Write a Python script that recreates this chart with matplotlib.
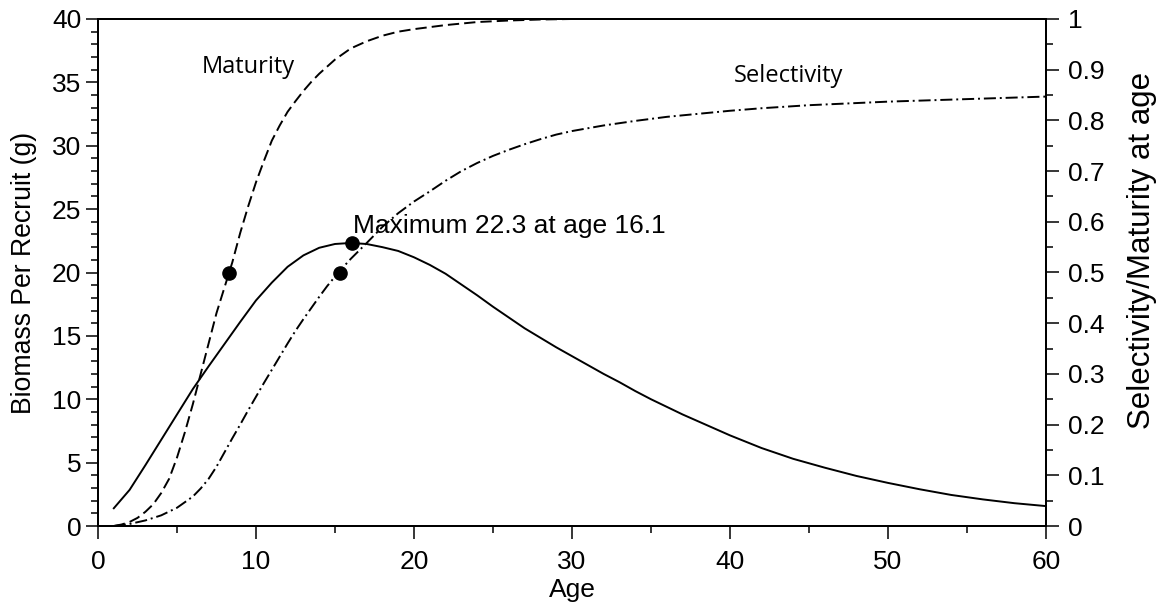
import matplotlib
matplotlib.use("Agg")
import matplotlib.pyplot as plt
from matplotlib.ticker import MultipleLocator

# ---- data ----
bpr_age = [1, 2, 3, 4, 5, 6, 7, 8, 9, 10, 11, 12, 13, 14, 15, 16, 17, 18,
           19, 20, 21, 22, 23, 24, 25, 26, 27, 28, 29, 30, 31, 32, 33, 34,
           35, 36, 37, 38, 39, 40, 42, 44, 46, 48, 50, 52, 54, 56, 58, 60]
bpr = [1.4, 2.85, 4.8, 6.8, 8.8, 10.8, 12.6, 14.35, 16.1, 17.8, 19.2, 20.45,
       21.35, 21.95, 22.25, 22.33, 22.25, 22.0, 21.7, 21.2, 20.6, 19.9, 19.05,
       18.2, 17.3, 16.45, 15.6, 14.85, 14.1, 13.4, 12.7, 12.0, 11.35, 10.65,
       10.0, 9.4, 8.8, 8.25, 7.7, 7.15, 6.15, 5.3, 4.6, 3.95, 3.4, 2.9, 2.45,
       2.1, 1.8, 1.57]

mat_age = [1, 1.5, 2, 2.5, 3, 3.5, 4, 4.5, 5, 5.5, 6, 6.5, 7, 7.5, 8, 8.5, 9,
           9.5, 10, 10.5, 11, 11.5, 12, 12.5, 13, 13.5, 14, 15, 16, 17, 18,
           19, 20, 21, 22, 23, 24, 26, 28, 30, 45, 60]
mat = [0.0, 0.003, 0.008, 0.016, 0.028, 0.043, 0.065, 0.093, 0.135, 0.185,
       0.24, 0.3, 0.36, 0.42, 0.47, 0.52, 0.578, 0.63, 0.678, 0.72, 0.76,
       0.79, 0.817, 0.838, 0.858, 0.876, 0.892, 0.92, 0.942, 0.956, 0.967,
       0.975, 0.98, 0.984, 0.988, 0.991, 0.994, 0.997, 0.999, 1.0, 1.0, 1.0]

sel_age = [1, 2, 3, 4, 5, 6, 6.5, 7, 7.5, 8, 8.5, 9, 9.5, 10, 10.5, 11, 11.5,
           12, 12.5, 13, 13.5, 14, 14.5, 15, 15.5, 16, 17, 18, 19, 20, 21,
           22, 23, 24, 25, 26, 27, 28, 29, 30, 32, 34, 36, 38, 40, 42, 45,
           50, 55, 60]
sel = [0.0, 0.004, 0.011, 0.021, 0.036, 0.058, 0.074, 0.093, 0.117, 0.145,
       0.173, 0.2, 0.228, 0.255, 0.282, 0.308, 0.334, 0.36, 0.385, 0.408,
       0.43, 0.452, 0.473, 0.492, 0.51, 0.527, 0.558, 0.59, 0.617, 0.64,
       0.66, 0.681, 0.7, 0.716, 0.73, 0.742, 0.753, 0.763, 0.772, 0.779,
       0.79, 0.799, 0.807, 0.813, 0.819, 0.824, 0.83, 0.837, 0.842, 0.847]

max_point = (16.1, 22.3)
mat50 = (8.3, 0.5)
sel50 = (15.3, 0.5)
annotation = "Maximum 22.3 at age 16.1"

# ---- figure ----
plt.rcParams['font.family'] = ['Liberation Sans', 'DejaVu Sans']
fig = plt.figure(figsize=(11.6, 6.04), dpi=100)
ax = fig.add_axes([98/1160, 78/604, 948/1160, 507/604])
ax2 = ax.twinx()

lw = 1.4
ax.plot(bpr_age, bpr, color='black', lw=lw)
ax.plot([max_point[0]], [max_point[1]], 'o', color='black', ms=9.5, zorder=5)
ax.text(max_point[0] + 0.05, 22.3 + 0.8, annotation, fontsize=19,
        ha='left', va='baseline')

ax2.plot(mat_age, mat, color='black', lw=lw, dashes=(5.8, 2.6))
ax2.plot(sel_age, sel, color='black', lw=lw, dashes=(6.2, 2.0, 1.0, 2.0))
ax2.plot([mat50[0], sel50[0]], [mat50[1], sel50[1]], 'o', color='black',
         ms=9.5, zorder=5)

ax.set_xlim(0, 60)
ax.set_ylim(0, 40)
ax2.set_ylim(0, 1)

ax.xaxis.set_major_locator(MultipleLocator(10))
ax.xaxis.set_minor_locator(MultipleLocator(5))
ax.yaxis.set_major_locator(MultipleLocator(5))
ax.yaxis.set_minor_locator(MultipleLocator(1))
ax2.yaxis.set_major_locator(MultipleLocator(0.1))
ax2.yaxis.set_minor_locator(MultipleLocator(0.05))
ax2.yaxis.set_major_formatter(plt.FuncFormatter(lambda v, p: ('%g' % round(v, 2))))

for a in (ax, ax2):
    a.tick_params(which='major', direction='out', length=9, width=1.1,
                  labelsize=19)
    a.tick_params(which='minor', direction='out', length=5, width=1.1)
    for s in a.spines.values():
        s.set_linewidth(1.4)
ax.tick_params(axis='x', which='major', pad=8)
ax.tick_params(axis='y', which='major', pad=3)
ax2.tick_params(axis='y', which='major', pad=7)

ax.set_xlabel('Age', fontsize=19, labelpad=3)
ax.set_ylabel('Biomass Per Recruit (g)', fontsize=19.2)
ax.yaxis.set_label_coords((24 - 98) / 948, 0.5)
ax.yaxis.label.set_va('center')
ax2.set_ylabel('Selectivity/Maturity at age', fontsize=22.5)
ax2.yaxis.set_label_coords((1142 - 98) / 948, (526 - 250) / 507)
ax2.yaxis.label.set_va('center')

fig.text(202/1160, 1 - 73/604, 'Maturity', fontsize=17, family='Open Sans',
         ha='left', va='baseline')
fig.text(843/1160, 1 - 82/604, 'Selectivity', fontsize=17, family='Open Sans',
         ha='right', va='baseline')

fig.savefig('out.png', dpi=100)
